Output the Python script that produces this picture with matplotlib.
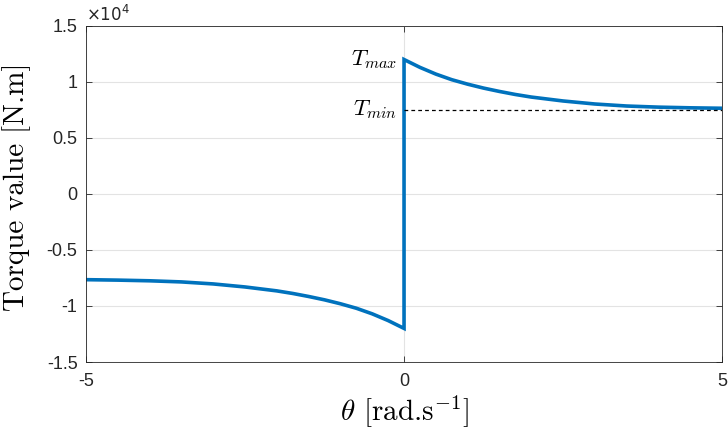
import matplotlib
matplotlib.use("Agg")
import matplotlib.pyplot as plt

plt.rcParams['font.family'] = ['Liberation Sans', 'DejaVu Sans']
plt.rcParams['mathtext.fontset'] = 'cm'

# values (N.m)
theta_pos = [0, 0.25, 0.5, 0.75, 1, 1.25, 1.5, 1.75, 2, 2.5, 3, 3.5, 4, 4.5, 5]
torque_pos = [12000, 11300, 10700, 10200, 9800, 9450, 9150, 8880, 8650, 8300, 8030, 7850, 7750, 7690, 7650]
theta_neg = [-5, -4.5, -4, -3.5, -3, -2.5, -2, -1.75, -1.5, -1.25, -1, -0.75, -0.5, -0.25, 0]
torque_neg = [-7650, -7690, -7750, -7850, -8030, -8300, -8650, -8880, -9150, -9450, -9800, -10200, -10700, -11300, -12000]
t_max = 12000
t_min = 7500

yticks = [-15000, -10000, -5000, 0, 5000, 10000, 15000]
ytick_labels = ['-1.5', '-1', '-0.5', '0', '0.5', '1', '1.5']
xticks = [-5, 0, 5]

theta = theta_neg + theta_pos
torque = torque_neg + torque_pos

fig = plt.figure(figsize=(7.28, 4.32), dpi=100)
ax = fig.add_axes([0.118, 0.162, 0.874, 0.778])

ax.plot(theta, torque, color='#0072BD', linewidth=2.6, solid_joinstyle='miter')
ax.plot([0, 5], [t_min, t_min], color='black', linestyle=(0, (3, 2.5)), linewidth=0.9)

ax.text(-0.1, t_max, r'$T_{max}$', ha='right', va='center', fontsize=16.5)
ax.text(-0.1, t_min, r'$T_{min}$', ha='right', va='center', fontsize=16.5)

ax.set_xlim(-5, 5)
ax.set_ylim(-15000, 15000)
ax.set_xticks(xticks)
ax.set_xticklabels([str(x) for x in xticks])
ax.set_yticks(yticks)
ax.set_yticklabels(ytick_labels)
ax.grid(True, color='#e3e3e3', linewidth=0.8)
ax.set_axisbelow(True)
ax.tick_params(direction='in', length=4, width=0.6, colors='#262626', labelsize=13,
               top=True, right=True, labelcolor='#262626')
ax.tick_params(axis='x', pad=8)
ax.tick_params(axis='y', pad=6)
for s in ax.spines.values():
    s.set_color('#262626')
    s.set_linewidth(0.6)

ax.text(0, 1.003, r'$\times 10^{4}$', transform=ax.transAxes, ha='left', va='bottom',
        fontsize=12, color='#262626', family='DejaVu Sans', math_fontfamily='dejavusans')

ax.set_xlabel(r'$\theta$ [rad.s$^{-1}$]', fontsize=21, family='cmr10', labelpad=2)
ax.set_ylabel('Torque value [N.m]', fontsize=21, family='cmr10')
ax.yaxis.set_label_coords(-0.087, 0.52)

fig.savefig('out.png', dpi=100)
